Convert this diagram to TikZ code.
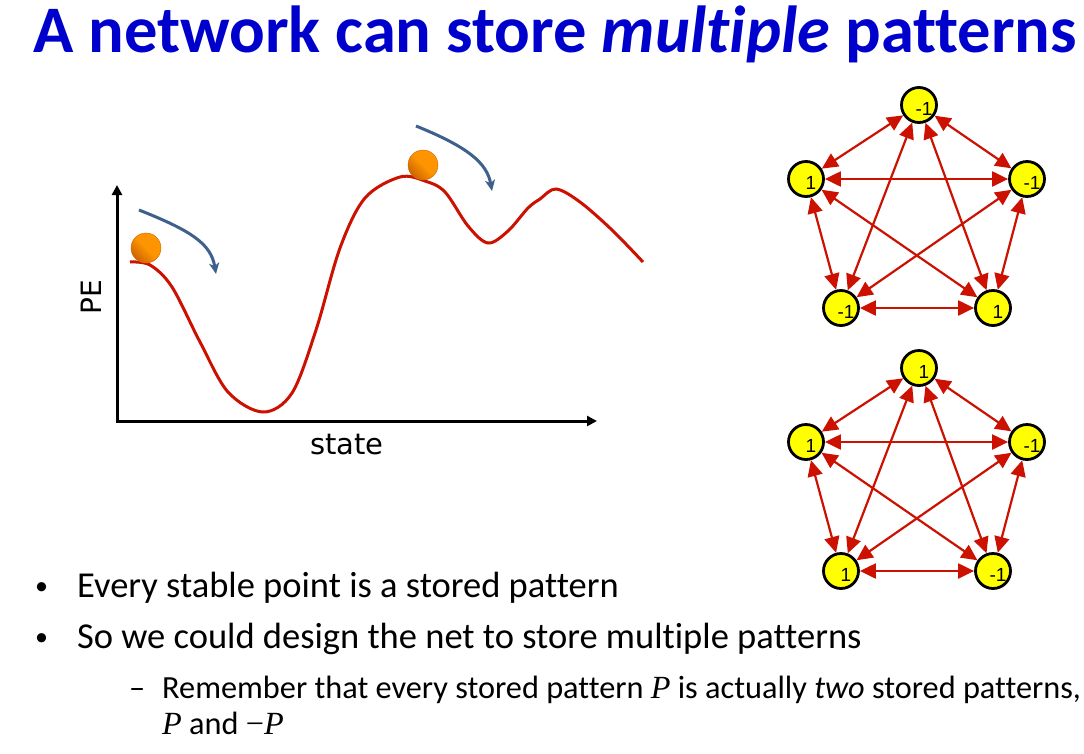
\documentclass[tikz,border=0pt]{standalone}
\usepackage{fontspec}
\setmainfont[Ligatures=NoCommon]{Carlito}
\newfontfamily\arialf{Liberation Sans}
\newfontfamily\comicf{DejaVu Sans}
\newfontfamily\serif{Liberation Serif}
\usetikzlibrary{arrows.meta}
\definecolor{titleblue}{RGB}{0,0,204}
\definecolor{netred}{RGB}{204,17,0}
\definecolor{arrowblue}{RGB}{62,96,140}
\definecolor{nodeyellow}{RGB}{255,255,0}
\definecolor{ballorange}{RGB}{255,150,0}
\definecolor{balldark}{RGB}{205,100,0}
\tikzset{
  neuron/.style={circle, draw=black, line width=2.8pt, fill=nodeyellow, minimum size=35pt, inner sep=0pt},
  nlab/.style={font=\arialf\fontsize{19}{20}\selectfont, inner sep=0pt},
  link/.style={draw=netred, line width=2.2pt, {Triangle[length=16pt,width=15pt]}-{Triangle[length=16pt,width=15pt]}},
  axisline/.style={line width=3pt, -{Triangle[length=10pt,width=10pt]}},
  energy/.style={draw=netred, line width=3pt},
  rollarrow/.style={draw=arrowblue, line width=3pt, -{Stealth[length=11pt,width=10pt,inset=3pt]}},
  ball/.style={circle, minimum size=30pt, inner sep=0pt, draw=balldark, line width=0.4pt,
    left color=ballorange, right color=balldark, middle color=ballorange!95!balldark, shading angle=-45},
  bodytext/.style={anchor=base west, inner sep=0pt, font=\fontsize{36.5}{40}\selectfont},
  subtext/.style={anchor=base west, inner sep=0pt, font=\fontsize{32.3}{36}\selectfont},
  bulletmark/.style={anchor=base west, inner sep=0pt, font=\fontsize{26}{30}\selectfont},
}
\newcommand\hopnet[6]{%
  \node[neuron, label={[nlab, xshift=5pt, yshift=-4pt]center:#2}] (#1t) at (919,105) {};
  \node[neuron, label={[nlab, xshift=5pt, yshift=-4pt]center:#3}] (#1l) at (806,179) {};
  \node[neuron, label={[nlab, xshift=5pt, yshift=-4pt]center:#4}] (#1r) at (1027,179) {};
  \node[neuron, label={[nlab, xshift=5pt, yshift=-4pt]center:#5}] (#1a) at (841,308) {};
  \node[neuron, label={[nlab, xshift=5pt, yshift=-4pt]center:#6}] (#1b) at (993,308) {};
  \draw[link] (#1t) -- (#1l);
  \draw[link] (#1t) -- (#1r);
  \draw[link] (#1t) -- (#1a);
  \draw[link] (#1t) -- (#1b);
  \draw[link] (#1l) -- (#1r);
  \draw[link] (#1l) -- (#1a);
  \draw[link] (#1l) -- (#1b);
  \draw[link] (#1r) -- (#1a);
  \draw[link] (#1r) -- (#1b);
  \draw[link] (#1a) -- (#1b);
}
\begin{document}
\begin{tikzpicture}[x=1pt,y=-1pt]
\useasboundingbox[fill=white] (0,0) rectangle (1084,753);

% title
\node[anchor=base west, inner sep=0pt, text=titleblue, font=\bfseries\fontsize{66.5}{70}\selectfont] (title) at (33,52)
  {A network can store \textit{multiple} patterns};

% energy landscape
\coordinate (origin) at (117,421);
\coordinate (ytip) at (117,185);
\coordinate (xtip) at (597,421);
\draw[axisline] ([yshift=-1.5pt]origin) -- (ytip);
\draw[axisline] ([xshift=-1.5pt]origin) -- (xtip);
\node[rotate=90, font=\comicf\fontsize{28}{30}\selectfont] (pe) at (91,297) {PE};
\node[font=\comicf\fontsize{29}{31}\selectfont] (state) at (347,445) {state};

\draw[energy] plot[smooth, tension=0.55] coordinates {
  (130,262) (150,265) (172,287) (200,342) (228,392) (263,412) (292,393) (316,330)
  (340,248) (365,198) (400,177) (425,181) (445,192) (468,226) (488,243) (508,231)
  (528,208) (540,199) (556,189) (580,202) (612,230) (643,262)};

\node[ball] (ball1) at (146,248) {};
\node[ball] (ball2) at (423,165) {};

\coordinate (a1s) at (139,210);
\coordinate (a1e) at (216,274);
\coordinate (a2s) at (416,126);
\coordinate (a2e) at (492,191);
\draw[rollarrow] (a1s) .. controls (192,231) and (211,244) .. (a1e);
\draw[rollarrow] (a2s) .. controls (468,147) and (487,163) .. (a2e);

% networks
\hopnet{p}{-1}{1}{-1}{-1}{1}
\begin{scope}[shift={(0,263)}]
\hopnet{q}{1}{1}{-1}{1}{-1}
\end{scope}

% bullets
\node[bulletmark] (d1) at (35,594) {•};
\node[bodytext] (b1) at (77,597) {Every stable point is a stored pattern};
\node[bulletmark] (d2) at (35,645) {•};
\node[bodytext] (b2) at (77,648) {So we could design the net to store multiple patterns};
\node[subtext] (d3) at (129,698) {–};
\node[subtext] (b3) at (162,698) {Remember that every stored pattern {\serif\itshape P} is actually \textit{two} stored patterns,};
\node[subtext] (b4) at (162,734) {{\serif\itshape P} and {\serif −\itshape P}};
\end{tikzpicture}
\end{document}
